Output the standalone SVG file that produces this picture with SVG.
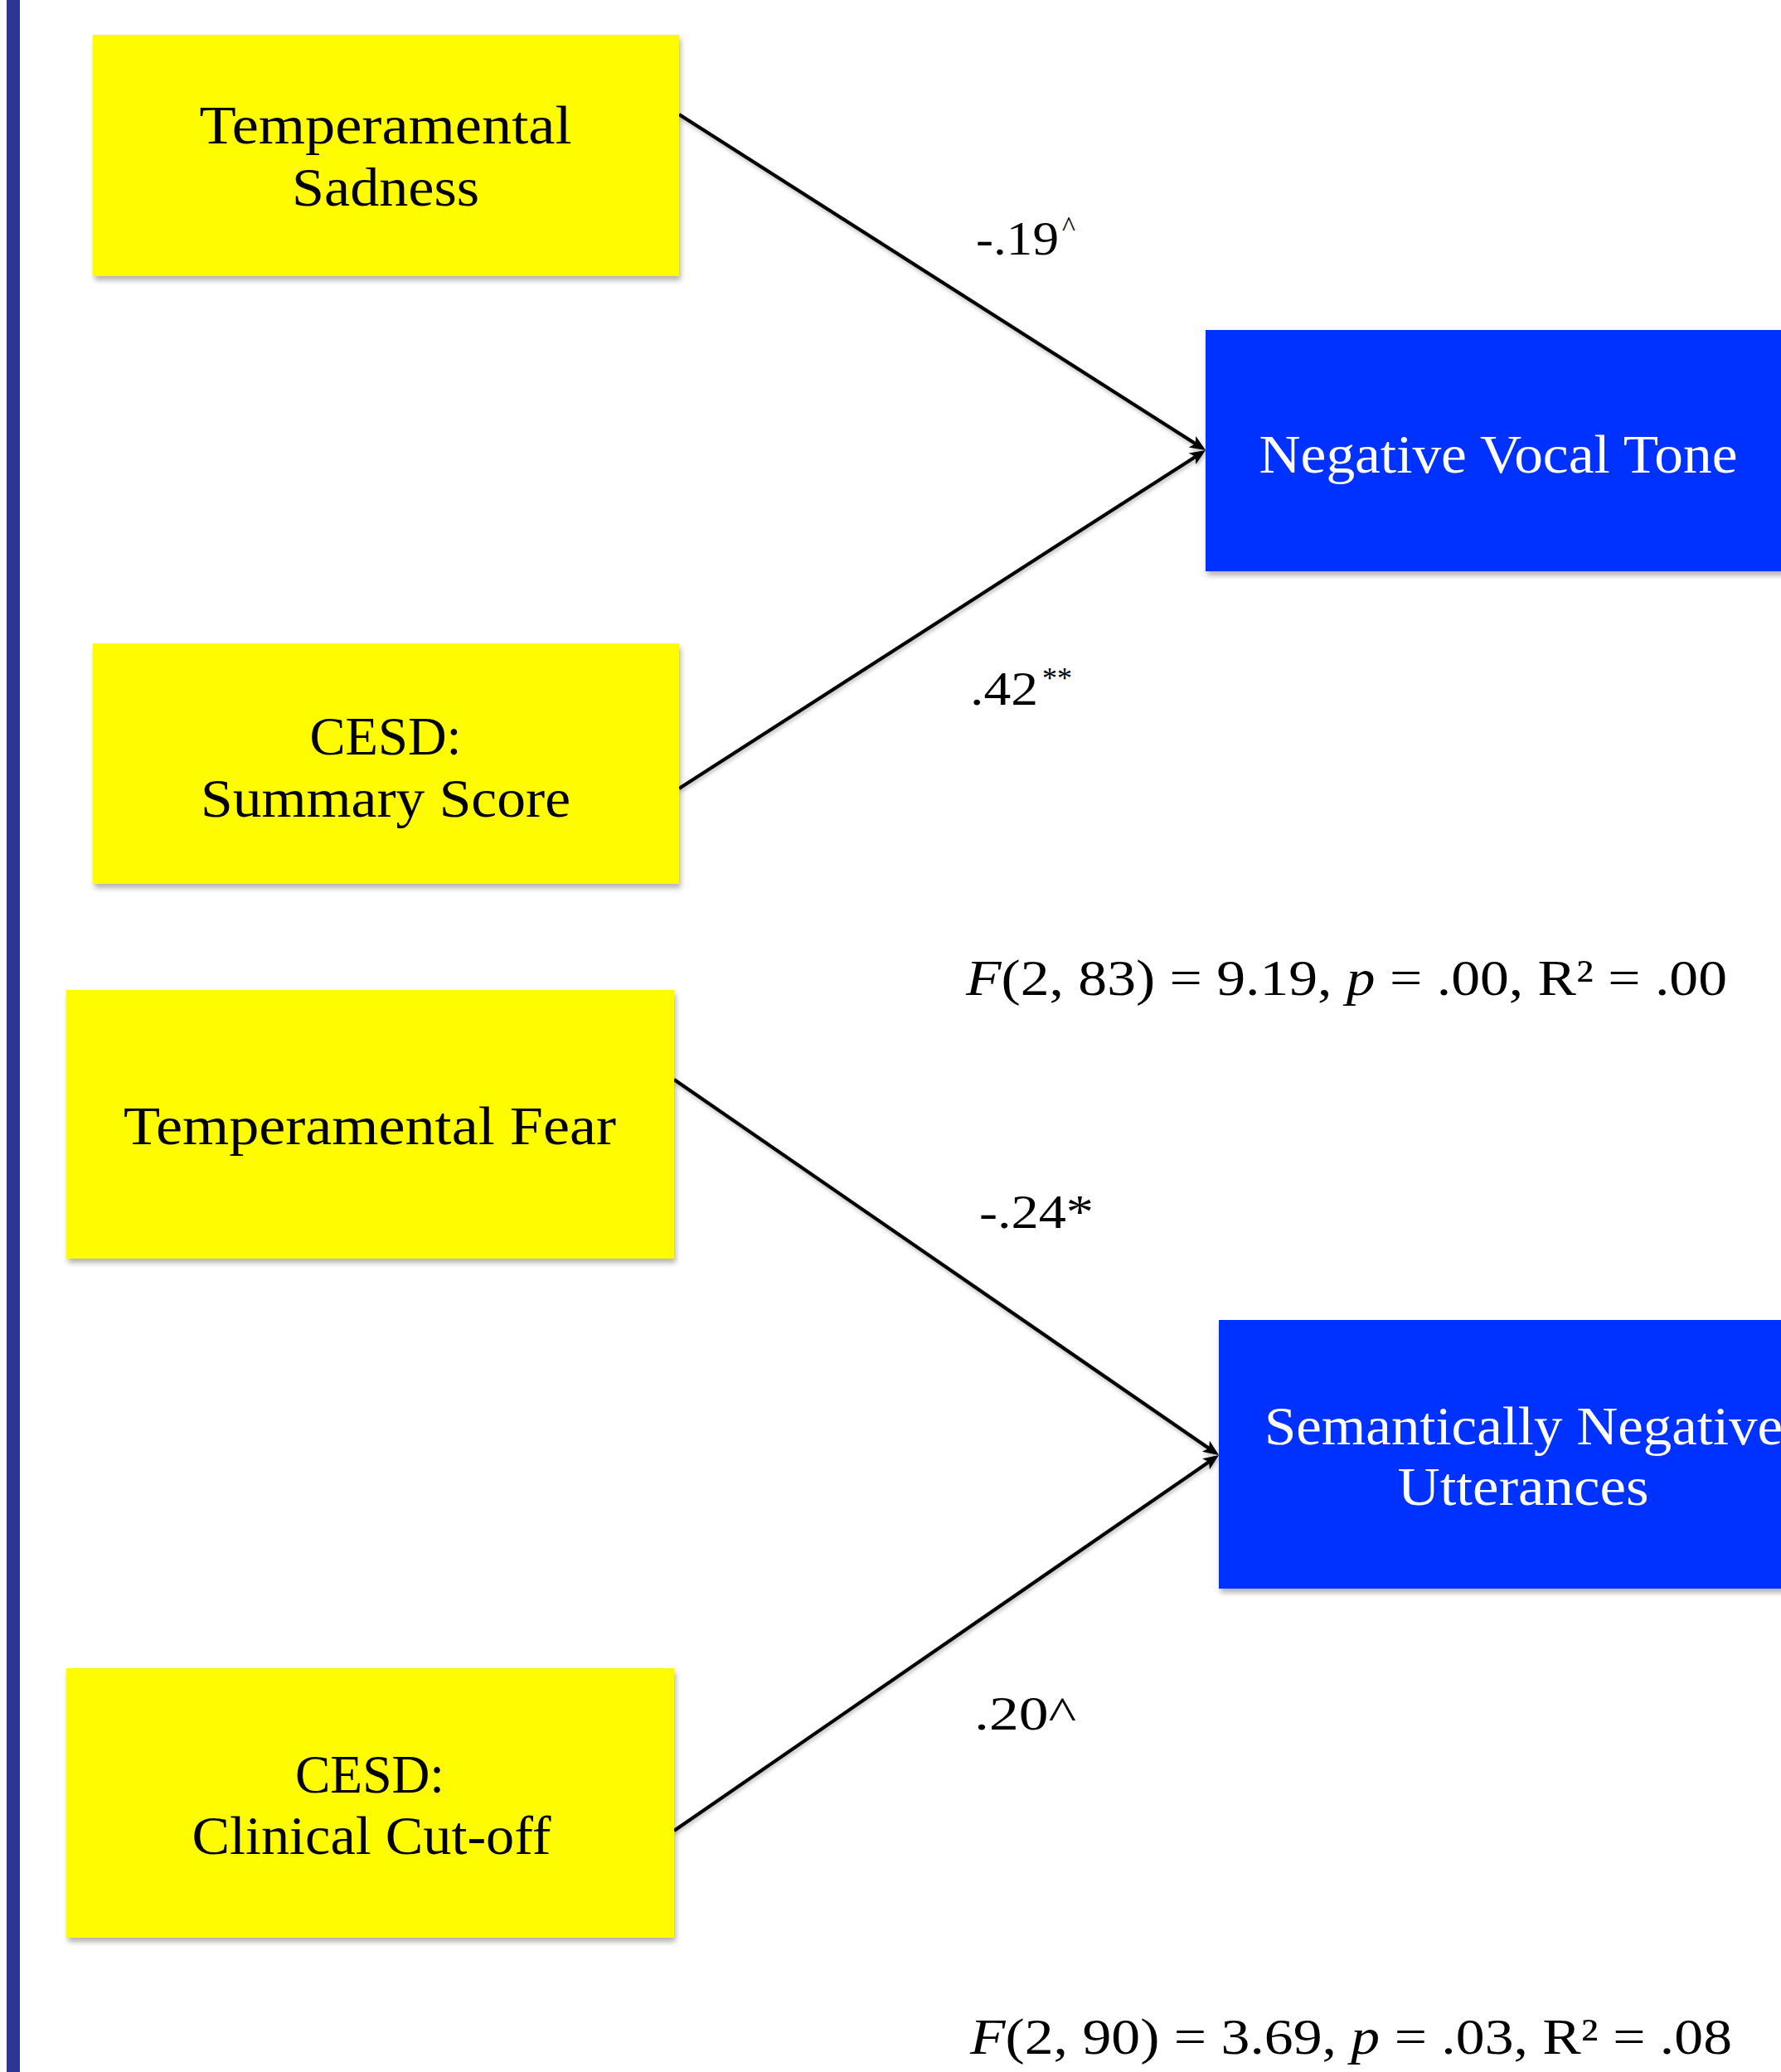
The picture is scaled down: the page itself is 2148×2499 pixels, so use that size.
<svg xmlns="http://www.w3.org/2000/svg" width="2148" height="2499" viewBox="0 0 2148 2499">
<style>
.box-y{fill:#FFFB00}
.box-b{fill:#0433FF}
.lbl{font-family:"Liberation Serif","Times New Roman",serif;font-size:65px;text-anchor:middle}
.dark{fill:#000}
.light{fill:#fff}
.coef{font-family:"Liberation Serif","Times New Roman",serif;font-size:58px;fill:#000}
.stat{font-family:"Liberation Serif","Times New Roman",serif;font-size:62px;fill:#000}
.conn{stroke:#000;stroke-width:4.2;fill:none;marker-end:url(#arr)}
</style>
<defs>
<filter id="sh" x="-5%" y="-5%" width="115%" height="120%">
<feDropShadow dx="2" dy="5" stdDeviation="3" flood-color="#000" flood-opacity="0.3"/>
</filter>
<filter id="lsh" x="-5%" y="-5%" width="115%" height="120%">
<feDropShadow dx="1" dy="3" stdDeviation="2" flood-color="#000" flood-opacity="0.25"/>
</filter>
<marker id="arr" markerUnits="userSpaceOnUse" markerWidth="24" markerHeight="20" refX="14" refY="8" orient="auto">
<path d="M0,0 L19,8 L0,16 L4.5,8 Z" fill="#000"/>
</marker>
</defs>
<rect width="2148" height="2499" fill="#fff"/>
<rect x="8" y="0" width="16" height="2499" fill="#2D3696"/>

<g id="connectors" filter="url(#lsh)">
<line class="conn" x1="819" y1="138" x2="1449.8" y2="540.3"/>
<line class="conn" x1="819" y1="951" x2="1449.8" y2="545.7"/>
<line class="conn" x1="813" y1="1302" x2="1465.9" y2="1752.2"/>
<line class="conn" x1="813" y1="2208" x2="1465.9" y2="1757.8"/>
</g>

<g id="node-temperamental-sadness">
<rect class="box-y" x="112" y="42" width="707" height="291" filter="url(#sh)"/>
<text class="lbl dark" x="465" y="173" textLength="449" lengthAdjust="spacingAndGlyphs">Temperamental</text>
<text class="lbl dark" x="465" y="248" textLength="226" lengthAdjust="spacingAndGlyphs">Sadness</text>
</g>

<g id="node-cesd-summary">
<rect class="box-y" x="112" y="776" width="707" height="290" filter="url(#sh)"/>
<text class="lbl dark" x="465" y="910" textLength="183" lengthAdjust="spacingAndGlyphs">CESD:</text>
<text class="lbl dark" x="465" y="985" textLength="446" lengthAdjust="spacingAndGlyphs">Summary Score</text>
</g>

<g id="node-negative-vocal-tone">
<rect class="box-b" x="1454" y="398" width="720" height="291" filter="url(#sh)"/>
<text class="lbl light" x="1807" y="570" textLength="577" lengthAdjust="spacingAndGlyphs">Negative Vocal Tone</text>
</g>

<g id="node-temperamental-fear">
<rect class="box-y" x="80" y="1194" width="733" height="324" filter="url(#sh)"/>
<text class="lbl dark" x="446" y="1380" textLength="594" lengthAdjust="spacingAndGlyphs">Temperamental Fear</text>
</g>

<g id="node-cesd-clinical">
<rect class="box-y" x="80" y="2012" width="733" height="325" filter="url(#sh)"/>
<text class="lbl dark" x="446" y="2162" textLength="180" lengthAdjust="spacingAndGlyphs">CESD:</text>
<text class="lbl dark" x="448" y="2236" textLength="433" lengthAdjust="spacingAndGlyphs">Clinical Cut-off</text>
</g>

<g id="node-semantically-negative">
<rect class="box-b" x="1470" y="1592" width="740" height="324" filter="url(#sh)"/>
<text class="lbl light" x="1525" y="1742" style="text-anchor:start" textLength="625" lengthAdjust="spacingAndGlyphs">Semantically Negative</text>
<text class="lbl light" x="1837" y="1815" textLength="303" lengthAdjust="spacingAndGlyphs">Utterances</text>
</g>

<g id="labels">
<text class="coef" x="1177" y="307" textLength="100" lengthAdjust="spacingAndGlyphs">-.19</text>
<text class="coef" x="1281" y="284" style="font-size:34px">^</text>
<text class="coef" x="1170" y="850" textLength="82" lengthAdjust="spacingAndGlyphs">.42</text>
<text class="coef" x="1257" y="830" style="font-size:36px">**</text>
<text class="coef" x="1181" y="1481" textLength="138" lengthAdjust="spacingAndGlyphs">-.24*</text>
<text class="coef" x="1175" y="2086" textLength="123" lengthAdjust="spacingAndGlyphs">.20^</text>
<text class="stat" x="1165" y="1200" textLength="918" lengthAdjust="spacingAndGlyphs"><tspan font-style="italic">F</tspan>(2, 83) = 9.19, <tspan font-style="italic">p</tspan> = .00, R² = .00</text>
<text class="stat" x="1170" y="2477" textLength="919" lengthAdjust="spacingAndGlyphs"><tspan font-style="italic">F</tspan>(2, 90) = 3.69, <tspan font-style="italic">p</tspan> = .03, R² = .08</text>
</g>
</svg>
